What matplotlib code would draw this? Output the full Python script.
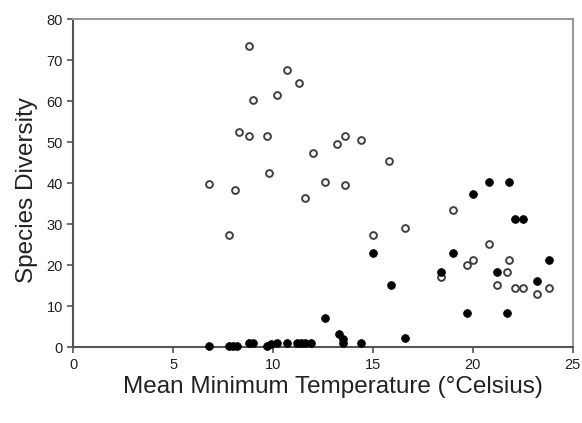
import matplotlib
matplotlib.use("Agg")
import matplotlib.pyplot as plt

plt.rcParams['font.family'] = ['Liberation Sans', 'DejaVu Sans']

# open circles
open_x = [8.8, 10.7, 11.3, 9.0, 10.2, 8.3, 8.8, 9.7, 13.2, 13.6, 14.4, 12.0,
          9.8, 6.8, 8.1, 12.6, 11.6, 7.8, 13.6, 15.8, 15.0, 16.6, 19.0, 20.8,
          20.0, 19.7, 21.8, 21.7, 18.4, 21.2, 22.1, 22.5, 23.2, 23.8]
open_y = [73.5, 67.5, 64.5, 60.3, 61.5, 52.5, 51.6, 51.6, 49.5, 51.6, 50.4, 47.3,
          42.5, 39.7, 38.3, 40.4, 36.5, 27.3, 39.5, 45.5, 27.3, 29.1, 33.5, 25.2,
          21.3, 20.0, 21.3, 18.3, 17.2, 15.3, 14.4, 14.4, 13.1, 14.4]

# filled circles
filled_x = [6.8, 7.8, 8.0, 8.2, 8.8, 9.0, 9.7, 9.9, 10.2, 10.7, 11.2, 11.4,
            11.6, 11.9, 12.6, 13.3, 13.5, 13.5, 14.4, 16.6, 15.0, 15.9,
            20.8, 21.8, 20.0, 22.1, 22.5, 19.0, 23.8, 18.4, 21.2, 23.2,
            19.7, 21.7]
filled_y = [0.3, 0.2, 0.2, 0.2, 1.0, 1.0, 0.2, 0.8, 1.0, 1.0, 1.0, 1.0,
            1.0, 1.0, 7.1, 3.2, 1.9, 1.0, 1.1, 2.2, 23.0, 15.3,
            40.4, 40.4, 37.4, 31.3, 31.3, 23.0, 21.3, 18.3, 18.3, 16.2,
            8.3, 8.3]

fig = plt.figure(figsize=(5.82, 4.23), dpi=100)
ax = fig.add_axes([0.126, 0.179, 0.858, 0.776])

ax.scatter(open_x, open_y, s=24, facecolors='white', edgecolors='#404040',
           linewidths=1.4, zorder=3, clip_on=False)
ax.scatter(filled_x, filled_y, s=32, facecolors='black', edgecolors='black',
           linewidths=0.5, zorder=4, clip_on=False)

ax.set_xlim(0, 25)
ax.set_ylim(0, 80)
ax.set_xticks(range(0, 26, 5))
ax.set_yticks(range(0, 81, 10))

for side in ['left', 'bottom']:
    ax.spines[side].set_color('#555555')
    ax.spines[side].set_linewidth(1.5)
for side in ['top', 'right']:
    ax.spines[side].set_color('#999999')
    ax.spines[side].set_linewidth(1.5)

ax.tick_params(direction='out', length=4, width=1.2, color='#555555',
               labelsize=10.5, labelcolor='#222222')

ax.set_xlabel('Mean Minimum Temperature (°Celsius)', fontsize=17.5,
              color='#222222', labelpad=3)
ax.xaxis.label.set_x(0.52)
ax.set_ylabel('Species Diversity', fontsize=17.5, color='#222222', labelpad=6)
ax.yaxis.label.set_y(0.48)

fig.savefig('out.png', dpi=100)
